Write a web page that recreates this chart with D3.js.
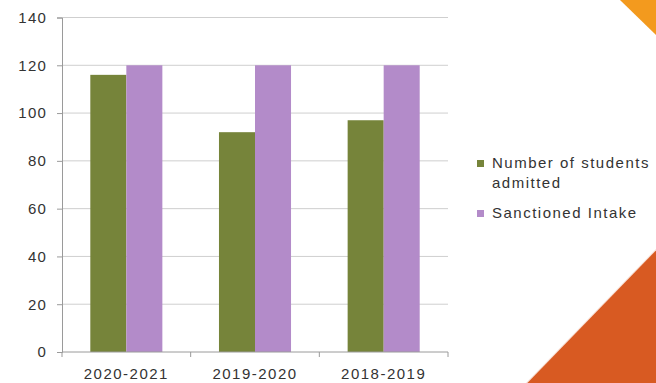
<!DOCTYPE html>
<html><head><meta charset="utf-8">
<script src="https://cdn.jsdelivr.net/npm/d3@7/dist/d3.min.js"></script>
<style>
html,body{margin:0;padding:0;background:#fff;}
text{font-family:"Liberation Sans",Arial,sans-serif;}
</style></head>
<body>
<svg id="chart" width="656" height="383"></svg>
<script>
const categories = ["2020-2021", "2019-2020", "2018-2019"];
const seriesNames = ["Number of students admitted", "Sanctioned Intake"];
const admitted = [116, 92, 97];
const sanctioned = [120, 120, 120];
const yTicks = [0, 20, 40, 60, 80, 100, 120, 140];
const colors = ["#76843A", "#B38BC9"];

const svg = d3.select("#chart");

// decorative corner shapes
svg.append("polygon").attr("points", "620,0 656,0 656,35").attr("fill", "#F39A1E");
svg.append("polygon").attr("points", "656,249 656,383 526,383").attr("fill", "#D85A22");
svg.append("line").attr("x1", 656).attr("y1", 249).attr("x2", 526).attr("y2", 383)
  .attr("stroke", "#fff").attr("stroke-width", 2).attr("opacity", 0.8);

const m = {left: 62, right: 448, top: 17.5, bottom: 352};
const y = d3.scaleLinear().domain([0, 140]).range([m.bottom, m.top]);
const x0 = d3.scaleBand().domain(categories).range([m.left, m.right])
  .paddingInner(0.44).paddingOuter(0.22);
const x1 = d3.scaleBand().domain([0, 1]).range([0, x0.bandwidth()]);
const xCells = d3.scaleBand().domain(categories).range([m.left, m.right]);

// gridlines
svg.append("g").selectAll("line").data(yTicks.filter(d => d > 0)).join("line")
  .attr("x1", m.left).attr("x2", m.right)
  .attr("y1", d => y(d)).attr("y2", d => y(d))
  .attr("stroke", "#cfcfcf").attr("stroke-width", 1);

// bars
const series = [admitted, sanctioned];
const g = svg.append("g");
series.forEach((vals, si) => {
  g.selectAll(".b" + si).data(categories).join("rect")
    .attr("x", c => x0(c) + x1(si))
    .attr("width", x1.bandwidth())
    .attr("y", (c, i) => y(vals[i]))
    .attr("height", (c, i) => y(0) - y(vals[i]))
    .attr("fill", colors[si]);
});

// y axis
const yAxis = d3.axisLeft(y).tickValues(yTicks).tickSize(5).tickPadding(10);
const ya = svg.append("g").attr("transform", `translate(${m.left},0)`).call(yAxis);
ya.select(".domain").attr("stroke", "#9a9a9a");
ya.selectAll(".tick line").attr("stroke", "#9a9a9a");
ya.selectAll("text").attr("font-size", 15).attr("fill", "#333")
  .attr("letter-spacing", "1.2px").attr("font-family", "Liberation Sans, Arial, sans-serif");

// x axis
const xa = svg.append("g").attr("transform", `translate(0,${m.bottom})`);
xa.append("line").attr("x1", m.left).attr("x2", m.right).attr("stroke", "#9a9a9a");
const bounds = categories.map(c => xCells(c)).concat([m.right]);
xa.selectAll(".xt").data(bounds).join("line")
  .attr("x1", d => d).attr("x2", d => d).attr("y1", 0).attr("y2", 5)
  .attr("stroke", "#9a9a9a");
xa.selectAll(".xl").data(categories).join("text")
  .attr("x", c => x0(c) + x0.bandwidth() / 2)
  .attr("y", 27)
  .attr("text-anchor", "middle")
  .attr("font-size", 15).attr("fill", "#333").attr("letter-spacing", "1.5px")
  .text(c => c);

// legend
const lg = svg.append("g");
const legendLines = [["Number of students", "admitted"], ["Sanctioned Intake"]];
const legendY = [168, 218];
legendLines.forEach((lines, i) => {
  lg.append("rect").attr("x", 477).attr("y", legendY[i] - 8).attr("width", 7).attr("height", 7)
    .attr("fill", colors[i]);
  lines.forEach((t, j) => {
    lg.append("text").attr("x", 492).attr("y", legendY[i] + j * 20)
      .attr("font-size", 15).attr("fill", "#333").attr("letter-spacing", "1.5px")
      .text(t);
  });
});
</script>
</body></html>
